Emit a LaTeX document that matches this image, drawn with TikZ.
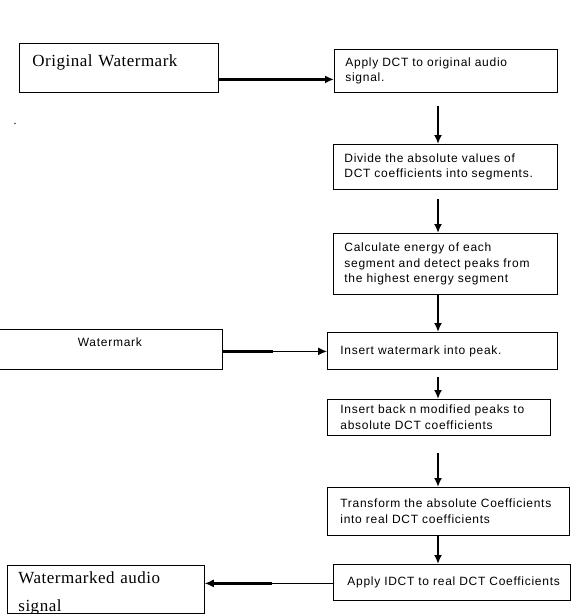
\documentclass[tikz,border=0pt]{standalone}
\usepackage{fontspec}
\usetikzlibrary{arrows.meta,calc}
\newfontfamily\stepfont[LetterSpace=6]{Liberation Sans}
\newfontfamily\serfont[LetterSpace=3]{Liberation Serif}
\tikzset{
  stepbox/.style={draw,line width=.8pt,anchor=north west,align=left,
    font=\stepfont\fontsize{12}{15.5}\selectfont,inner xsep=11pt},
  endbox/.style={draw,line width=.8pt,anchor=north west,align=left,
    font=\serfont\fontsize{17}{20}\selectfont,inner xsep=13pt},
  flow/.style={line width=1.8pt,-{Latex[length=9pt,width=8pt]}}
}

\begin{document}
\begin{tikzpicture}[x=1pt,y=-1pt]
  \useasboundingbox (0,0) rectangle (576,614);
  % inputs and output on the left
  \node[endbox,text width=173pt,minimum height=49pt,text depth=15pt] (orig) at (19,43) {Original Watermark};
  \node[font=\serfont\fontsize{12}{14}\selectfont,inner sep=0pt] (dot) at (15,124) {.};
  \node[stepbox,align=center,inner xsep=0pt,text width=225pt,minimum height=40pt,text depth=14pt] (wm) at (-3,329) {Watermark};
  \node[endbox,inner xsep=11pt,inner ysep=0pt,text width=175pt,text height=18pt,text depth=30pt] (out) at (7,565) {Watermarked audio\\[8pt]signal};
  % embedding steps
  \node[stepbox,text width=201pt,minimum height=43pt] (dct) at (334,49) {Apply DCT to original audio\\signal.};
  \node[stepbox,text width=202pt,minimum height=45pt] (div) at (333,144) {Divide the absolute values of\\DCT coefficients into segments.};
  \node[stepbox,text width=202pt,minimum height=61pt] (calc) at (333,233) {Calculate energy of each\\segment and detect peaks from\\the highest energy segment};
  \node[stepbox,inner xsep=13pt,text width=204pt,minimum height=37pt] (ins) at (327,332) {Insert watermark into peak.};
  \node[stepbox,inner xsep=13pt,text width=197pt,minimum height=36pt] (back) at (327,399) {Insert back n modified peaks to\\absolute DCT coefficients};
  \node[stepbox,inner xsep=13pt,text width=216pt,minimum height=48pt] (trans) at (327,487) {\mbox{Transform the absolute Coefficients}\\into real DCT coefficients};
  \node[stepbox,inner xsep=14pt,text width=209pt,minimum height=36pt] (idct) at (333,564) {\mbox{Apply IDCT to real DCT Coefficients}};
  % connectors
  \coordinate (ax) at (438,0);
  \draw[flow,line width=2.4pt] ([yshift=-11.5pt]orig.east) -- ([yshift=-11.5pt]orig.east -| dct.west);
  \draw[flow,shorten <=13pt] (dct.south -| ax) -- (div.north -| ax);
  \draw[flow,shorten <=9pt] (div.south -| ax) -- (calc.north -| ax);
  \draw[flow] (calc.south -| ax) -- (ins.north -| ax);
  \draw[flow,shorten <=7pt] (ins.south -| ax) -- (back.north -| ax);
  \draw[flow,shorten <=17pt] (back.south -| ax) -- (trans.north -| ax);
  \draw[flow] (trans.south -| ax) -- (idct.north -| ax);
  \draw[flow,line width=1.2pt] ([yshift=-2pt]wm.east) -- ([yshift=-2pt]wm.east -| ins.west);
  \draw[line width=2.6pt] ([yshift=-2pt]wm.east) -- ++(50,0);
  \draw[flow,line width=1.2pt] ([yshift=-1pt]idct.west) -- ([yshift=-1pt]idct.west -| out.east);
  \draw[line width=2.6pt] ([yshift=-1pt,xshift=8pt]idct.west -| out.east) -- ++(59,0);
\end{tikzpicture}
\end{document}
